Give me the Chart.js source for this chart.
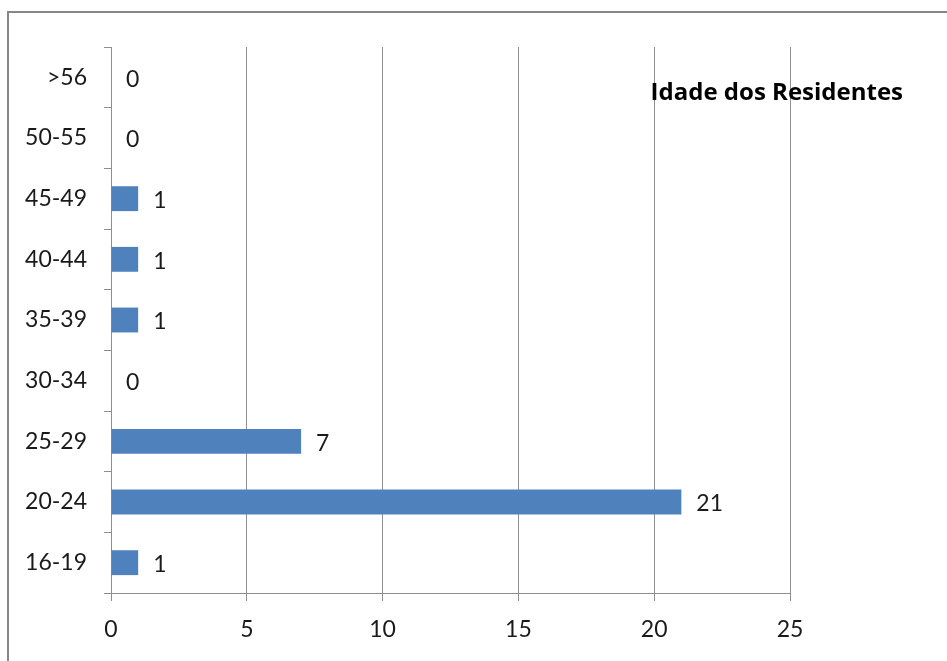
<!DOCTYPE html>
<html>
<head>
<meta charset="utf-8">
<script src="https://cdn.jsdelivr.net/npm/chart.js@4/dist/chart.umd.min.js"></script>
<style>
  html, body { margin: 0; padding: 0; background: #fff; }
  #wrap { width: 947px; height: 661px; position: relative; }
</style>
</head>
<body>
<div id="wrap"><canvas id="ageChart"></canvas></div>
<script>
const ageGroups = ["16-19", "20-24", "25-29", "30-34", "35-39", "40-44", "45-49", "50-55", ">56"];
const residents = [1, 21, 7, 0, 1, 1, 1, 0, 0];
const xTicks = [0, 5, 10, 15, 20, 25];
const chartTitle = "Idade dos Residentes";

const fontFamily = "Lato, 'Open Sans', sans-serif";
const gridColor = "#8e8e8e";

// frame around the whole chart (only left and top edges are visible)
const framePlugin = {
  id: "frame",
  beforeDraw(chart) {
    const ctx = chart.ctx;
    ctx.save();
    ctx.fillStyle = "#fff";
    ctx.fillRect(0, 0, chart.width, chart.height);
    ctx.strokeStyle = "#868686";
    ctx.lineWidth = 2;
    ctx.beginPath();
    ctx.moveTo(8, chart.height);
    ctx.lineTo(8, 12);
    ctx.lineTo(chart.width, 12);
    ctx.stroke();
    ctx.restore();
  },
};

// value labels next to the bars + title inside the plot
const labelPlugin = {
  id: "valueLabels",
  afterDatasetsDraw(chart) {
    const ctx = chart.ctx;
    const meta = chart.getDatasetMeta(0);
    ctx.save();
    ctx.font = "23px " + fontFamily;
    ctx.fillStyle = "#1a1a1a";
    ctx.textAlign = "left";
    ctx.textBaseline = "middle";
    meta.data.forEach((bar, i) => {
      ctx.fillText(String(residents[i]), bar.x + 15, bar.y + 2);
    });
    const area = chart.chartArea;
    ctx.font = "bold 24px 'Open Sans', sans-serif";
    ctx.fillStyle = "#000";
    ctx.textAlign = "right";
    ctx.fillText(chartTitle, area.right + 113, area.top + 46);
    ctx.restore();
  },
};

const ctx = document.getElementById("ageChart").getContext("2d");
new Chart(ctx, {
  type: "bar",
  data: {
    labels: ageGroups,
    datasets: [
      {
        label: chartTitle,
        data: residents,
        backgroundColor: "#4f81bd",
        borderWidth: 0,
        barPercentage: 0.82,
        categoryPercentage: 0.5,
      },
    ],
  },
  options: {
    indexAxis: "y",
    responsive: true,
    maintainAspectRatio: false,
    animation: false,
    layout: { padding: { top: 47, right: 157, left: 0, bottom: 0 } },
    plugins: {
      legend: { display: false },
      tooltip: { enabled: false },
      title: { display: false },
    },
    scales: {
      x: {
        min: 0,
        max: 25,
        afterBuildTicks: (scale) => {
          scale.ticks = xTicks.map((v) => ({ value: v }));
        },
        afterFit: (scale) => {
          scale.height = 68;
        },
        grid: { color: gridColor, lineWidth: 1, tickLength: 8, drawTicks: true },
        border: { display: true, color: gridColor, width: 1 },
        ticks: {
          padding: 15,
          color: "#1a1a1a",
          font: { family: fontFamily, size: 23 },
        },
      },
      y: {
        reverse: true,
        afterFit: (scale) => {
          scale.width = 111;
        },
        grid: { drawOnChartArea: false, drawTicks: true, tickLength: 7, color: gridColor, offset: true },
        border: { display: true, color: gridColor, width: 1 },
        ticks: {
          padding: 17,
          color: "#1a1a1a",
          font: { family: fontFamily, size: 23 },
        },
      },
    },
  },
  plugins: [framePlugin, labelPlugin],
});
</script>
</body>
</html>
